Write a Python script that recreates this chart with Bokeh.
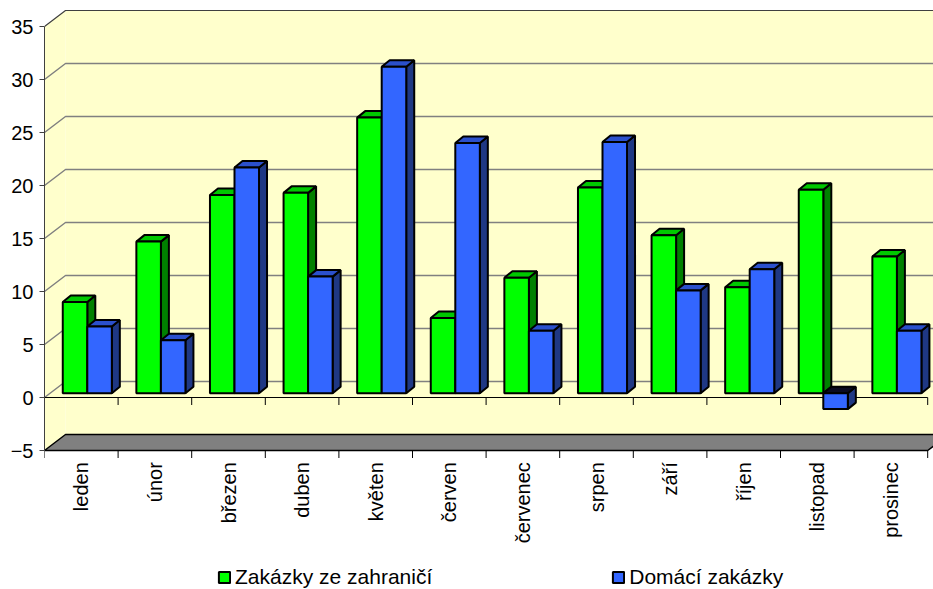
import numpy as np
from math import pi
from bokeh.plotting import figure
from bokeh.models import Range1d, FixedTicker, Legend, LegendItem
from bokeh.core.properties import value
from bokeh.embed import file_html
from bokeh.resources import INLINE

# ---------------- data ----------------
months = ["leden", "únor", "březen", "duben", "květen", "červen",
          "červenec", "srpen", "září", "říjen", "listopad", "prosinec"]
foreign = [8.6, 14.3, 18.7, 18.9, 26.0, 7.1, 10.9, 19.4, 14.9, 10.0, 19.2, 12.9]
domestic = [6.3, 5.0, 21.3, 11.0, 30.8, 23.6, 5.9, 23.7, 9.7, 11.7, -1.5, 5.9]
series_names = ["Zakázky ze zahraničí", "Domácí zakázky"]
y_ticks = [-5, 0, 5, 10, 15, 20, 25, 30, 35]

# ---------------- geometry (pixel sizes -> data units) ----------------
W, H = 933, 589
LEFT_BORDER = 44
CAT_PX = 73.6      # pixels per category
UNIT_PX = 10.6     # pixels per value unit
ZERO_PX = 397      # canvas y of value 0
Y_MIN, Y_MAX = -5, 35
n = len(months)
x_end = (W - LEFT_BORDER) / CAT_PX
y_top = ZERO_PX / UNIT_PX
y_bot = (ZERO_PX - H) / UNIT_PX
WALL_DX, WALL_DY = 21 / CAT_PX, 16 / UNIT_PX
BAR_DX, BAR_DY = 8 / CAT_PX, 6.5 / UNIT_PX
OFF_DX, OFF_DY = 6 / CAT_PX, 4.3 / UNIT_PX
BAR_W = 1 / 3

FONT = "Liberation Sans"
WALL = "#FFFFCC"
GRID = "#808080"
front_cols = ["#00FF00", "#3366FF"]
top_cols = ["#00C800", "#2B50CC"]
side_cols = ["#008000", "#1F3884"]

p = figure(width=W, height=H, x_range=Range1d(0, x_end),
           y_range=Range1d(y_bot, y_top), output_backend="svg",
           toolbar_location=None, min_border_left=LEFT_BORDER, min_border_right=0,
           min_border_top=0, min_border_bottom=0)
p.grid.visible = False
p.xaxis.visible = False
p.outline_line_color = None
p.background_fill_color = "white"
p.border_fill_color = "white"

# ---------------- walls & floor ----------------
p.quad(left=[WALL_DX], right=[n + WALL_DX], bottom=[Y_MIN + WALL_DY],
       top=[Y_MAX + WALL_DY], fill_color=WALL, line_color=None)
p.patch([0, 0, WALL_DX, WALL_DX], [Y_MIN, Y_MAX, Y_MAX + WALL_DY, Y_MIN + WALL_DY],
        fill_color=WALL, line_color=None)

grid_vals = [v for v in y_ticks if Y_MIN < v < Y_MAX]
gx, gy = [], []
for v in grid_vals:
    gx.append([0, WALL_DX, n + WALL_DX])
    gy.append([v, v + WALL_DY, v + WALL_DY])
p.multi_line(gx, gy, line_color=GRID, line_width=1.5)
p.line([0, WALL_DX, n + WALL_DX], [Y_MAX, Y_MAX + WALL_DY, Y_MAX + WALL_DY],
       line_color="#404040", line_width=1.2)

# floor slab
p.patch([0, n, n + WALL_DX, WALL_DX],
        [Y_MIN, Y_MIN, Y_MIN + WALL_DY, Y_MIN + WALL_DY],
        fill_color="#808080", line_color="black", line_width=1.5)

# category axis lines & ticks (front zero line and bottom edge)
cats = list(range(n + 1))
p.segment(x0=[0], y0=[0], x1=[n], y1=[0], line_color="black", line_width=1)
p.segment(x0=cats, y0=[0] * len(cats), x1=cats, y1=[-7.5 / UNIT_PX] * len(cats),
          line_color="black", line_width=1)
p.segment(x0=cats, y0=[Y_MIN] * len(cats), x1=cats,
          y1=[Y_MIN - 7.5 / UNIT_PX] * len(cats), line_color="black", line_width=1)

# category labels
centers = [i + 0.5 for i in range(n)]
p.text(x=centers, y=[Y_MIN - 11.7 / UNIT_PX] * n, text=months, angle=pi / 2,
       text_align="right", text_baseline="middle", text_font=value(FONT),
       text_font_size="20px", text_color="black")

# ---------------- 3D bars ----------------
side_xs, side_ys, side_c = [], [], []
top_xs, top_ys, top_c = [], [], []
fronts = []
for s, vals in enumerate([foreign, domestic]):
    idx = np.arange(n)
    v = np.array(vals, dtype=float)
    left = idx + (1 - 2 * BAR_W) / 2 + s * BAR_W + OFF_DX
    right = left + BAR_W
    lo = np.minimum(0, v) + OFF_DY
    hi = np.maximum(0, v) + OFF_DY
    for i in range(n):
        side_xs.append([right[i], right[i] + BAR_DX, right[i] + BAR_DX, right[i]])
        side_ys.append([lo[i], lo[i] + BAR_DY, hi[i] + BAR_DY, hi[i]])
        side_c.append(side_cols[s])
        top_xs.append([left[i], right[i], right[i] + BAR_DX, left[i] + BAR_DX])
        top_ys.append([hi[i], hi[i], hi[i] + BAR_DY, hi[i] + BAR_DY])
        top_c.append(top_cols[s] if v[i] >= 0 else "#0A0A20")
    fronts.append(dict(left=left, right=right, bottom=lo, top=hi))

p.patches(side_xs, side_ys, fill_color=side_c, line_color="black", line_width=2)
p.patches(top_xs, top_ys, fill_color=top_c, line_color="black", line_width=2)
front_renderers = []
for s in range(2):
    f = fronts[s]
    r = p.quad(left=f["left"], right=f["right"], bottom=f["bottom"], top=f["top"],
               fill_color=front_cols[s], line_color="black", line_width=2)
    front_renderers.append(r)

# ---------------- y axis ----------------
ya = p.yaxis[0]
ya.ticker = FixedTicker(ticks=y_ticks, minor_ticks=[])
ya.bounds = (Y_MIN, Y_MAX)
ya.axis_line_color = "#404040"
ya.major_tick_line_color = "#404040"
ya.major_tick_out = 5
ya.major_tick_in = 0
ya.major_label_standoff = 6
ya.major_label_text_font = FONT
ya.major_label_text_font_size = "20px"
ya.major_label_text_color = "black"

# ---------------- legend ----------------
legend = Legend(items=[LegendItem(label=series_names[s], renderers=[front_renderers[s]])
                       for s in range(2)],
                orientation="horizontal", location=(173, 0),
                glyph_width=14, glyph_height=14, label_standoff=4, spacing=179,
                padding=0, margin=0, border_line_color=None,
                background_fill_alpha=0, label_text_font=FONT,
                label_text_font_size="21px", label_text_color="black")
p.add_layout(legend)

open("out.html", "w").write(file_html(p, INLINE))
